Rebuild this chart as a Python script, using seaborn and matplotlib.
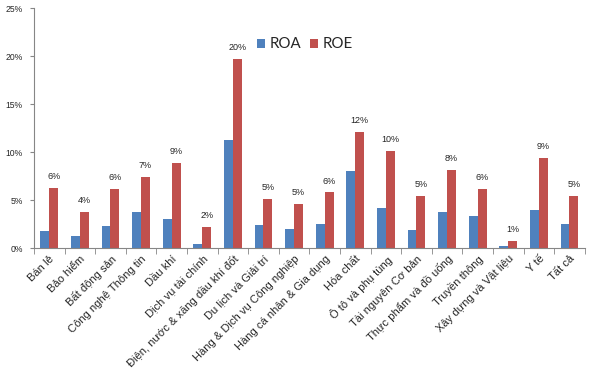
import pandas as pd
import seaborn as sns
import matplotlib.pyplot as plt
from matplotlib.ticker import FixedLocator, FuncFormatter

sectors = ["Bán lẻ", "Bảo hiểm", "Bất động sản", "Công nghệ Thông tin", "Dầu khí",
           "Dịch vụ tài chính", "Điện, nước & xăng dầu khí đốt", "Du lịch và Giải trí",
           "Hàng & Dịch vụ Công nghiệp", "Hàng cá nhân & Gia dụng", "Hóa chất",
           "Ô tô và phụ tùng", "Tài nguyên Cơ bản", "Thực phẩm và đồ uống",
           "Truyền thông", "Xây dựng và Vật liệu", "Y tế", "Tất cả"]
roa = [1.8, 1.25, 2.3, 3.8, 3.05, 0.4, 11.25, 2.4, 2.0, 2.5, 8.0, 4.2, 1.9, 3.8, 3.35, 0.2, 4.0, 2.5]
roe = [6.3, 3.75, 6.15, 7.4, 8.85, 2.2, 19.7, 5.1, 4.6, 5.8, 12.1, 10.1, 5.4, 8.1, 6.15, 0.75, 9.4, 5.4]

df = pd.DataFrame({"Ngành": sectors * 2,
                   "Chỉ số": ["ROA"] * len(sectors) + ["ROE"] * len(sectors),
                   "Giá trị": roa + roe})

sns.set_style("white")
plt.rcParams['font.family'] = ['Liberation Sans', 'DejaVu Sans']

fig = plt.figure(figsize=(5.91, 3.84), dpi=100)
ax = fig.add_axes([0.0575, 0.354, 0.932, 0.624])

sns.barplot(data=df, x="Ngành", y="Giá trị", hue="Chỉ số",
            palette={"ROA": "#4F81BD", "ROE": "#C0504D"},
            width=0.58, gap=0, saturation=1, linewidth=0, ax=ax)

# labels over ROE bars only
ax.bar_label(ax.containers[1], labels=[f"{round(v):.0f}%" for v in roe],
             padding=5, fontsize=6.5)

ax.set_ylim(0, 25)
ax.set_xlim(-0.5, len(sectors) - 0.5)
ax.set_yticks(range(0, 26, 5))
ax.yaxis.set_major_formatter(FuncFormatter(lambda v, p: f"{v:.0f}%"))
ax.tick_params(axis="y", labelsize=6.2, length=3, color="#868686", left=True, pad=5)
ax.tick_params(axis="x", which="major", length=0, labelsize=8, pad=4)
ax.xaxis.set_minor_locator(FixedLocator([i - 0.5 for i in range(len(sectors) + 1)]))
ax.tick_params(axis="x", which="minor", length=4, color="#868686", bottom=True)
plt.setp(ax.get_xticklabels(), rotation=45, ha="right", rotation_mode="anchor")

ax.set_xlabel("")
ax.set_ylabel("")
sns.despine(ax=ax)
for s in ["left", "bottom"]:
    ax.spines[s].set_color("#868686")

ax.legend(loc="center", bbox_to_anchor=(0.492, 0.85), ncol=2, frameon=False,
          prop={"family": "Lato", "size": 10.8}, handlelength=0.55, handleheight=0.55,
          handletextpad=0.3, columnspacing=0.6)

fig.savefig("out.png", dpi=100)
